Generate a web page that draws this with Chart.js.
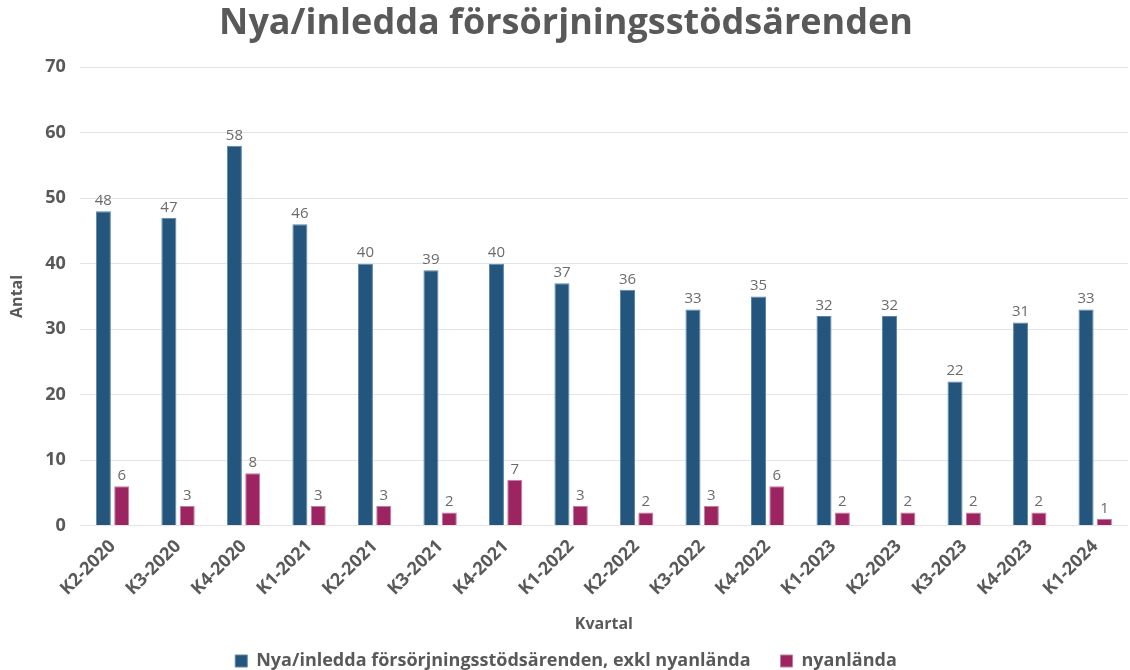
<!DOCTYPE html>
<html>
<head>
<meta charset="utf-8">
<script src="https://cdn.jsdelivr.net/npm/chart.js@4"></script>
<style>
  html, body { margin: 0; padding: 0; background: #fff; }
  #wrap { width: 1130px; height: 670px; }
</style>
</head>
<body>
<div id="wrap"><canvas id="chart"></canvas></div>
<script>
// Data
const quarters = ["K2-2020","K3-2020","K4-2020","K1-2021","K2-2021","K3-2021","K4-2021","K1-2022","K2-2022","K3-2022","K4-2022","K1-2023","K2-2023","K3-2023","K4-2023","K1-2024"];
const caseValues = [48,47,58,46,40,39,40,37,36,33,35,32,32,22,31,33];
const newArrivalValues = [6,3,8,3,3,2,7,3,2,3,6,2,2,2,2,1];
const seriesNames = ["Nya/inledda försörjningsstödsärenden, exkl nyanlända", "nyanlända"];

const GREY = "#595959";
const FONT = "'Open Sans', 'DejaVu Sans', sans-serif";

// simple value labels above each bar
const barLabels = {
  id: "barLabels",
  afterDatasetsDraw(chart) {
    const ctx = chart.ctx;
    ctx.save();
    ctx.font = "15px " + FONT;
    ctx.fillStyle = "#6b6b6b";
    ctx.textAlign = "center";
    ctx.textBaseline = "bottom";
    chart.data.datasets.forEach((ds, i) => {
      chart.getDatasetMeta(i).data.forEach((bar, j) => {
        ctx.fillText(ds.data[j], bar.x, bar.y - 3);
      });
    });
    ctx.restore();
  }
};

new Chart(document.getElementById("chart"), {
  type: "bar",
  data: {
    labels: quarters,
    datasets: [
      { label: seriesNames[0], data: caseValues, backgroundColor: "#24557d", borderColor: "#5b86aa", borderWidth: 1 },
      { label: seriesNames[1], data: newArrivalValues, backgroundColor: "#9c2461", borderColor: "#c47a9e", borderWidth: 1 },
    ],
  },
  options: {
    responsive: true,
    maintainAspectRatio: false,
    animation: false,
    categoryPercentage: 0.56,
    barPercentage: 0.82,
    layout: { padding: { left: 4, right: 2, top: 0, bottom: -10 } },
    plugins: {
      title: {
        display: true,
        text: "Nya/inledda försörjningsstödsärenden",
        color: GREY,
        font: { family: FONT, size: 36, weight: "bold" },
        padding: { top: 2, bottom: 22 },
      },
      legend: {
        position: "bottom",
        labels: { color: GREY, font: { family: FONT, size: 18, weight: "bold" }, boxWidth: 12, boxHeight: 12, padding: 30 },
      },
      tooltip: { enabled: false },
    },
    scales: {
      x: {
        grid: { display: false },
        border: { display: false },
        ticks: { color: GREY, font: { family: FONT, size: 18, weight: "bold" }, minRotation: 45, maxRotation: 45, padding: 2 },
        title: { display: true, text: "Kvartal", color: GREY, font: { family: FONT, size: 16, weight: "bold" }, padding: { top: 13, bottom: -12 } },
      },
      y: {
        min: 0, max: 70,
        grid: { color: "#e4e4e4", drawTicks: false },
        border: { display: false },
        ticks: { stepSize: 10, color: GREY, font: { family: FONT, size: 18, weight: "bold" }, padding: 14 },
        title: { display: true, text: "Antal", color: GREY, font: { family: FONT, size: 16, weight: "bold" } },
      },
    },
  },
  plugins: [barLabels],
});
</script>
</body>
</html>
